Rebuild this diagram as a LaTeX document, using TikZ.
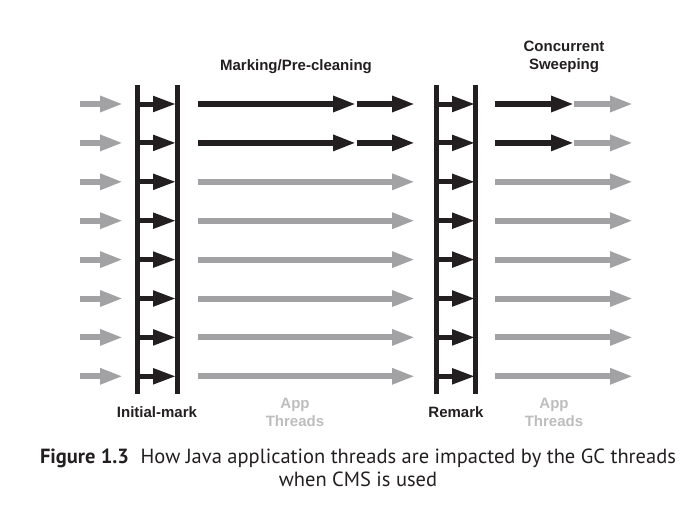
\documentclass[tikz,border=0pt]{standalone}
\usepackage{fontspec}
\setmainfont{Liberation Sans}
\newfontfamily\captionfont{PT Sans}
\usetikzlibrary{arrows.meta}
\definecolor{ink}{HTML}{231F20}
\definecolor{appgray}{HTML}{A2A2A5}
\definecolor{labelgray}{HTML}{BDBDBD}
\tikzset{thread/.style={
    line width=6pt, -{Triangle[length=23pt,width=15pt]}
  },
  gcthread/.style={thread, ink},
  appthread/.style={thread, appgray},
  stopthread/.style={line width=5pt, ink, -{Triangle[length=23pt,width=15pt]}},
  pausebar/.style={line width=5pt, ink},
  phase/.style={font=\bfseries\fontsize{15}{18}\selectfont, text=ink, align=center, inner sep=0pt},
  applabel/.style={phase, text=labelgray},
  figcaption/.style={font=\captionfont\fontsize{20.5}{23}\selectfont, text=ink, align=center, inner sep=0pt}
}

\begin{document}
\begin{tikzpicture}[x=1pt,y=-1pt]
    \useasboundingbox (0,0) rectangle (698,509);
    % stop-the-world pauses
    \foreach \bx in {137,177,436,475} {
      \draw[pausebar] (\bx,85) -- (\bx,394);
    }
    % one row per thread
    \foreach \r in {1,...,8} {
      \pgfmathsetmacro{\ry}{104+(\r-1)*38.9}
      \draw[appthread] (80,\ry) -- (123,\ry);
      \draw[stopthread] (137,\ry) -- (176,\ry);
      \draw[stopthread] (437,\ry) -- (475,\ry);
      \ifnum\r<3
        \draw[gcthread] (198,\ry) -- (356,\ry);
        \draw[gcthread] (357,\ry) -- (415,\ry);
        \draw[gcthread] (495,\ry) -- (574,\ry);
        \draw[appthread] (574,\ry) -- (633,\ry);
      \else
        \draw[appthread] (198,\ry) -- (415,\ry);
        \draw[appthread] (495,\ry) -- (633,\ry);
      \fi
    }
    % phase labels
    \node[phase] (marking) at (296,67) {Marking/Pre-cleaning};
    \node[phase] (sweeping) at (564,57) {Concurrent\\Sweeping};
    \node[phase] (initial) at (157,412) {Initial-mark};
    \node[phase] (remark) at (456,412) {Remark};
    \node[applabel] (appleft) at (295,412) {App\\Threads};
    \node[applabel] (appright) at (554,412) {App\\Threads};
    \node[figcaption] (caption) at (358,468) {\textbf{Figure 1.3}\hspace{0.3em} How Java application threads are impacted by the GC threads\\when CMS is used};
\end{tikzpicture}
\end{document}
